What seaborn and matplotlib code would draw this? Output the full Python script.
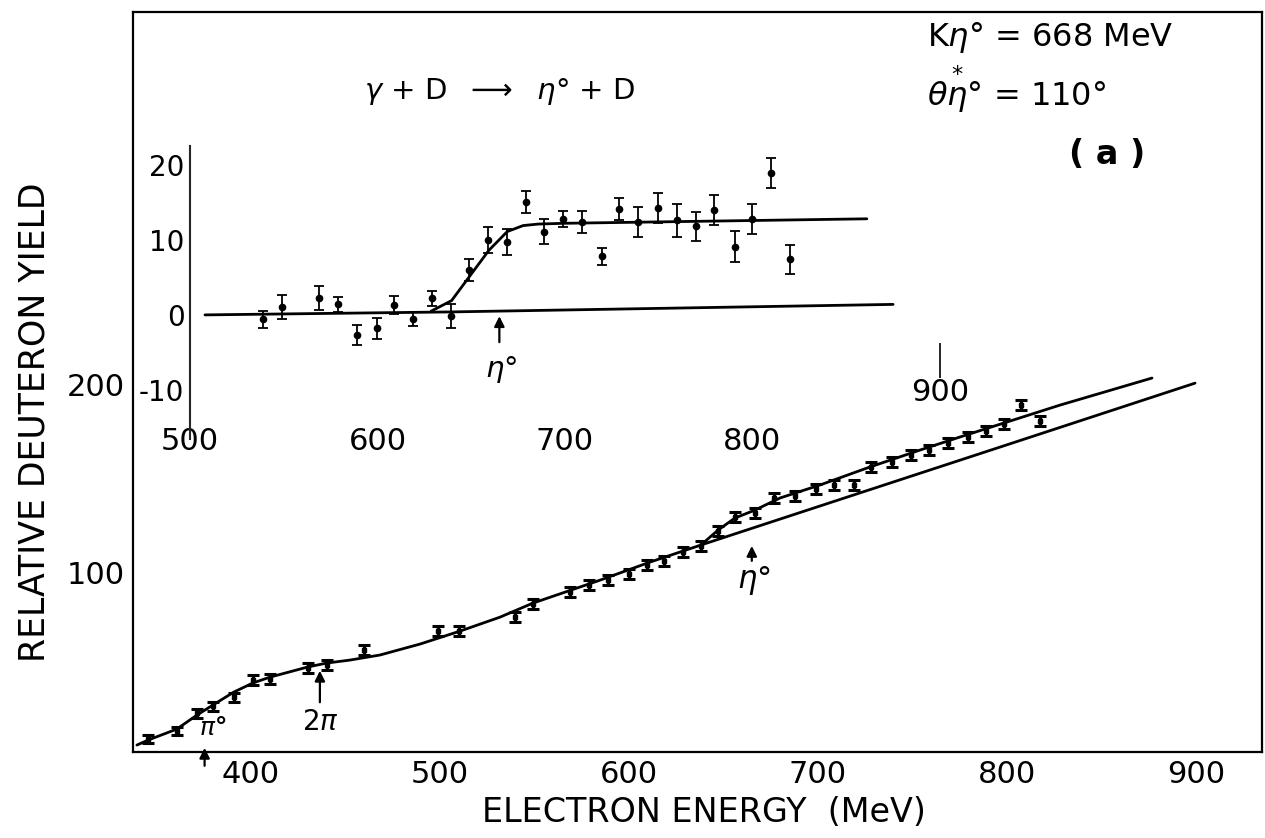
import numpy as np
import matplotlib
matplotlib.use("Agg")
import matplotlib.pyplot as plt
import seaborn as sns

sns.set_style("white")
plt.rcParams['font.family'] = ['DejaVu Sans']
plt.rcParams['axes.unicode_minus'] = False
plt.rcParams['text.color'] = 'black'
plt.rcParams['axes.labelcolor'] = 'black'
plt.rcParams['xtick.color'] = 'black'
plt.rcParams['ytick.color'] = 'black'

# main plot: deuteron yield vs electron energy
main_e = [345.5, 360.8, 371.4, 379.9, 391, 401, 410, 430, 440, 460,
          499, 510, 539.7, 549, 569, 579, 589, 600, 609.5, 618.5,
          628.6, 638, 647, 656, 666.7, 676.7, 688, 699, 708.5, 719,
          728, 739, 749, 759, 768.8, 779.4, 789, 798.4, 807.4, 817.5]
main_y = [11.2, 15.4, 25, 28.7, 33.5, 42.6, 43.1, 48.9, 50.5, 58.5,
          68.6, 68.6, 76, 83, 89.4, 93, 95.7, 98.9, 103.7, 105.9,
          110.6, 113.8, 121.8, 129.3, 131.4, 139.4, 140.4, 144, 146.3, 146.3,
          155.9, 158.5, 162.2, 164.9, 168.6, 171.8, 175, 178.7, 188.8, 180.3]
main_err = [2.2, 2.2, 2.4, 2.4, 2.4, 2.5, 2.5, 2.5, 2.5, 2.6,
            2.6, 2.6, 2.6, 2.6, 2.6, 2.6, 2.6, 2.6, 2.6, 2.6,
            2.6, 2.6, 2.7, 2.7, 2.7, 2.7, 2.7, 2.7, 2.7, 2.7,
            2.8, 2.8, 2.8, 2.8, 2.8, 2.8, 2.8, 2.8, 2.6, 2.6]

# fitted curve with eta production
fit_e = [339.7, 345.5, 360.8, 371.4, 379.9, 391, 401, 410, 430, 440,
         452.4, 468.3, 489.4, 510.6, 531.7, 549.2, 584.7, 611.1, 638.1,
         647.1, 656, 666.7, 679.9, 701, 727.5, 754, 775, 798.4, 828, 876.7]
fit_y = [8, 10.6, 16.5, 23.9, 29.3, 36.2, 41, 44.1, 49.5, 51.6,
         53.2, 55.9, 61.7, 68.6, 76, 83.5, 95.7, 105.3, 114.4,
         122.3, 128.7, 133, 139.4, 146.3, 155.9, 164.9, 171.8, 179.3, 188.8, 203.2]
# background (no eta) continuation
bg_e = [638.1, 700, 800, 899.5]
bg_y = [114.4, 134.8, 167.7, 200.5]

# inset: difference yield
ins_e = [539, 549, 568.7, 579, 589, 599.5, 609, 619, 629, 639,
         649, 659, 669, 679, 689, 699, 709, 720, 729, 739,
         749.6, 760, 770, 779.6, 790.7, 799.7, 810, 820]
ins_v = [-0.6, 1.1, 2.2, 1.4, -2.7, -1.8, 1.3, -0.5, 2.2, -0.1,
         6.0, 10.0, 9.7, 15.0, 11.1, 12.8, 12.4, 7.8, 14.1, 12.4,
         14.2, 12.6, 11.8, 14.0, 9.1, 12.8, 18.9, 7.4]
ins_err = [1.1, 1.6, 1.6, 1.0, 1.3, 1.4, 1.2, 0.95, 1.0, 1.6,
           1.5, 1.7, 1.75, 1.45, 1.7, 1.05, 1.5, 1.1, 1.5, 2.0,
           2.0, 2.2, 1.95, 2.0, 2.1, 2.0, 1.95, 1.9]
ins_fit_e = [628.6, 639.5, 649.3, 659.4, 669.2, 677.7, 685.8, 699.5, 861]
ins_fit_v = [0.5, 1.9, 5.2, 8.6, 11.1, 11.9, 12.1, 12.2, 12.8]
ins_base_e = [508, 640, 875]
ins_base_v = [0, 0.4, 1.4]

main_xticks = [400, 500, 600, 700, 800, 900]
main_yticks = [100, 200]
ins_xticks = [500, 600, 700, 800]
ins_yticks = [-10, 0, 10, 20]

fig = plt.figure(figsize=(12.65, 8.38), dpi=100)
ax = fig.add_axes([0.1051, 0.1026, 0.8925, 0.8831])

sns.lineplot(x=fit_e, y=fit_y, ax=ax, color='black', lw=2, estimator=None, sort=False)
sns.lineplot(x=bg_e, y=bg_y, ax=ax, color='black', lw=2, estimator=None, sort=False)
ax.errorbar(main_e, main_y, yerr=main_err, fmt='s', ms=3.5, color='black',
            ecolor='black', elinewidth=2.4, capsize=4, capthick=2.2)

ax.set_xlim(337.6, 934.9)
ax.set_ylim(4.3, 397.9)
ax.set_xticks(main_xticks)
ax.set_yticks(main_yticks)
ax.tick_params(direction='in', length=13, width=1.5, labelsize=22, pad=6)
for s in ax.spines.values():
    s.set_linewidth(1.6)
    s.set_color('black')

ax.set_xlabel("ELECTRON ENERGY  (MeV)", fontsize=24)
ax.xaxis.set_label_coords(0.506, -0.06)
ax.xaxis.label.set_va('top')
ax.set_ylabel("RELATIVE DEUTERON YIELD", fontsize=25)
ax.yaxis.set_label_coords(-0.072, 0.446)

# threshold arrows
arr = dict(arrowstyle='-|>', color='black', lw=1.6, mutation_scale=15)
ax.annotate('', xy=(375.5, 8), xytext=(375.5, -4.5), arrowprops=arr, annotation_clip=False)
ax.text(380, 17, r"$\pi$°", fontsize=18, fontweight='bold', ha='center', va='center')
ax.annotate('', xy=(436.5, 49), xytext=(436.5, 29.3), arrowprops=arr)
ax.text(437, 20.2, r"2$\pi$", fontsize=20, ha='center', va='center')
ax.annotate('', xy=(665, 115.4), xytext=(665, 104.5), arrowprops=arr)
ax.text(666, 95.7, r"$\eta$°", fontsize=22, ha='center', va='center')

ax.text(0.703, 0.966, r"K$\eta$° = 668 MeV", transform=ax.transAxes, fontsize=23, va='center')
ax.text(0.703, 0.895, r"$\theta\overset{*}{\eta}$° = 110°", transform=ax.transAxes, fontsize=23, va='center')
ax.text(0.863, 0.808, "( a )", transform=ax.transAxes, fontsize=24, fontweight='bold', ha='center', va='center')
ax.text(0.205, 0.892, r"$\gamma$ + D  $\longrightarrow$  $\eta$° + D", transform=ax.transAxes,
        fontsize=21, va='center')

# inset
ax_in = fig.add_axes([0.1502, 0.4764, 0.6225, 0.3494])
ax_in.patch.set_alpha(0)
sns.lineplot(x=ins_base_e, y=ins_base_v, ax=ax_in, color='black', lw=2, estimator=None, sort=False)
sns.lineplot(x=ins_fit_e, y=ins_fit_v, ax=ax_in, color='black', lw=2, estimator=None, sort=False)
ax_in.errorbar(ins_e, ins_v, yerr=ins_err, fmt='o', ms=4.5, color='black',
               elinewidth=1.3, capsize=3.5, capthick=1.3)
ax_in.set_xlim(500, 920)
ax_in.set_ylim(-16.5, 22.5)
for side in ['top', 'right', 'bottom']:
    ax_in.spines[side].set_visible(False)
ax_in.spines['left'].set_linewidth(1.5)
ax_in.spines['bottom'].set_position(('data', -13.7))
ax_in.set_xticks(ins_xticks)
ax_in.set_yticks(ins_yticks)
ax_in.tick_params(axis='y', direction='in', length=7, width=1.3, labelsize=20, pad=4)
ax_in.tick_params(axis='x', direction='in', length=22, width=1.2, labelsize=22, pad=7)
ax_in.vlines(900, -8.4, -3.7, color='black', lw=1.2)
ax_in.text(900, -10.3, "900", fontsize=22, ha='center', va='center')
ax_in.annotate('', xy=(665, 0.2), xytext=(665, -4), arrowprops=arr)
ax_in.text(666, -7.3, r"$\eta$°", fontsize=21, ha='center', va='center')

fig.savefig("out.png", dpi=100)
